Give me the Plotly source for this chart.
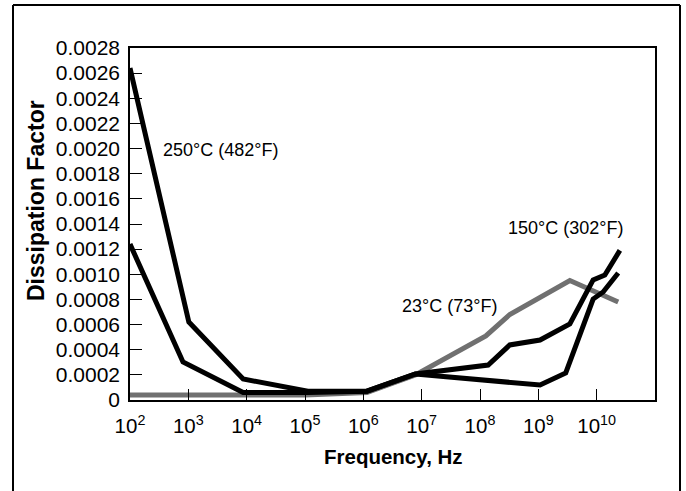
import plotly.graph_objects as go

# ---- data ----
freq_23 = [1e2, 1e5, 1.15e6, 7.8e6, 1.26e8, 3.24e8, 3.47e9, 2.34e10]
df_23 = [0.00004, 0.00004, 0.00006, 0.0002, 0.00051, 0.00068, 0.00095, 0.00078]

freq_250 = [1e2, 1.02e3, 8.7e3, 1.12e5, 1.15e6, 7.8e6, 1.38e8, 3.24e8, 1.07e9, 3.47e9, 8.7e9, 1.38e10, 2.5e10]
df_250 = [0.00264, 0.00062, 0.000167, 0.00007, 0.00007, 0.000207, 0.000278, 0.000438, 0.000477, 0.000605, 0.000955, 0.000994, 0.00119]

freq_150 = [1e2, 8.1e2, 8.7e3, 1.12e5, 1.15e6, 7.8e6, 1.07e9, 2.95e9, 8.7e9, 1.29e10, 2.34e10]
df_150 = [0.00124, 0.000302, 0.00006, 0.00006, 0.00007, 0.000207, 0.000119, 0.000215, 0.000803, 0.000859, 0.00101]

x_tickvals = [1e2, 1e3, 1e4, 1e5, 1e6, 1e7, 1e8, 1e9, 1e10]
x_ticktext = ["10<sup>2</sup>", "10<sup>3</sup>", "10<sup>4</sup>", "10<sup>5</sup>", "10<sup>6</sup>",
              "10<sup>7</sup>", "10<sup>8</sup>", "10<sup>9</sup>", "10<sup>10</sup>"]
y_tickvals = [i * 0.0002 for i in range(15)]
y_ticktext = ["0"] + ["%.4f" % v for v in y_tickvals[1:]]

labels = ["250°C (482°F)", "23°C (73°F)", "150°C (302°F)"]

FONT = "Liberation Sans, Arial, sans-serif"

fig = go.Figure()
fig.add_trace(go.Scatter(x=freq_23, y=df_23, mode="lines",
                         line=dict(color="#707070", width=5), showlegend=False))
fig.add_trace(go.Scatter(x=freq_150, y=df_150, mode="lines",
                         line=dict(color="black", width=5), showlegend=False))
fig.add_trace(go.Scatter(x=freq_250, y=df_250, mode="lines",
                         line=dict(color="black", width=5), showlegend=False))

L, R, T, B = 130, 31, 48, 91
W, H = 686, 491
pw, ph = W - L - R, H - T - B

def px(x):
    return (x - L) / pw

def py(y):
    return (T + ph - y) / ph

fig.update_layout(
    width=W, height=H,
    margin=dict(l=L, r=R, t=T, b=B),
    paper_bgcolor="white", plot_bgcolor="white",
    font=dict(family=FONT, size=20, color="black"),
    xaxis=dict(type="log", range=[2, 11], tickvals=x_tickvals, ticktext=x_ticktext,
               ticks="inside", ticklen=11, tickwidth=1.2, tickcolor="black",
               showline=True, linecolor="black", linewidth=1.5, mirror=True,
               showgrid=False, zeroline=False, tickfont=dict(size=20.5),
               ticklabelstandoff=7),
    yaxis=dict(range=[0, 0.0028], tickvals=y_tickvals, ticktext=y_ticktext,
               ticks="inside", ticklen=12, tickwidth=1.2, tickcolor="black",
               showline=True, linecolor="black", linewidth=1.5, mirror=True,
               showgrid=False, zeroline=False, tickfont=dict(size=21),
               ticklabelstandoff=4),
    annotations=[
        dict(text=labels[0], x=px(161), y=py(150), xref="paper", yref="paper",
             xanchor="left", yanchor="middle", showarrow=False, font=dict(size=18)),
        dict(text=labels[1], x=px(400), y=py(306), xref="paper", yref="paper",
             xanchor="left", yanchor="middle", showarrow=False, font=dict(size=18)),
        dict(text=labels[2], x=px(506), y=py(228), xref="paper", yref="paper",
             xanchor="left", yanchor="middle", showarrow=False, font=dict(size=18)),
        dict(text="<b>Frequency, Hz</b>", x=px(393), y=py(456), xref="paper", yref="paper",
             xanchor="center", yanchor="middle", showarrow=False, font=dict(size=20.5)),
        dict(text="<b>Dissipation Factor</b>", x=px(36), y=py(201), xref="paper", yref="paper",
             xanchor="center", yanchor="middle", textangle=-90, showarrow=False,
             font=dict(size=23)),
    ],
    shapes=[
        dict(type="line", xref="paper", yref="paper", x0=px(13), x1=px(13), y0=py(5), y1=py(500),
             line=dict(color="black", width=2)),
        dict(type="line", xref="paper", yref="paper", x0=px(13), x1=px(680), y0=py(5), y1=py(5),
             line=dict(color="black", width=2)),
        dict(type="line", xref="paper", yref="paper", x0=px(680), x1=px(680), y0=py(5), y1=py(500),
             line=dict(color="black", width=2)),
    ],
)

fig.write_html("out.html")
